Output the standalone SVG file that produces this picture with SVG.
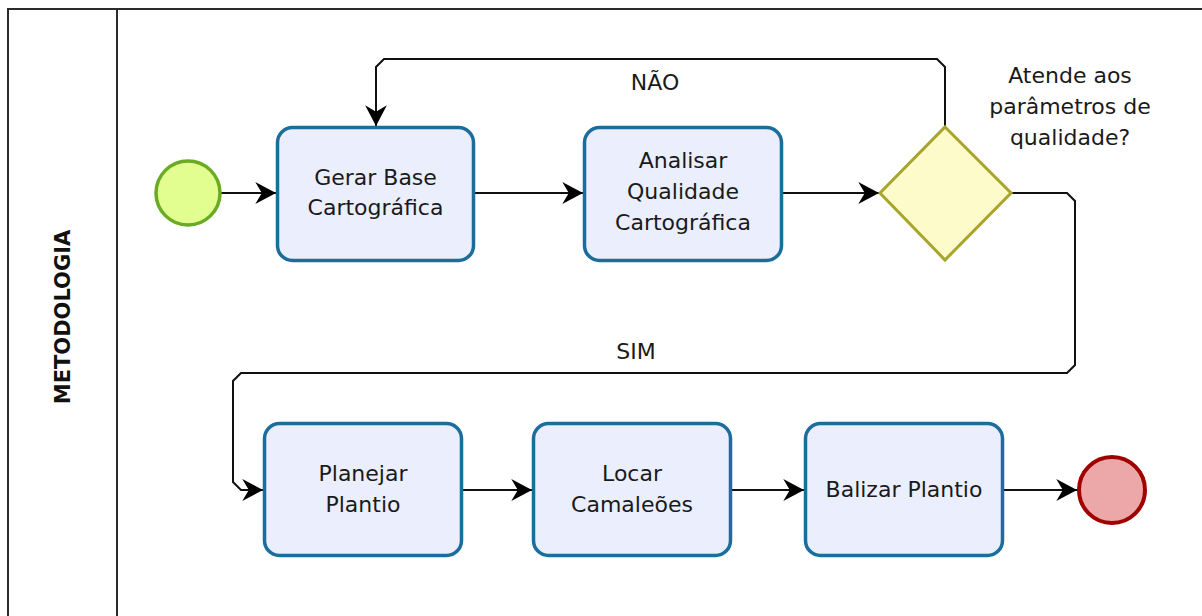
<svg xmlns="http://www.w3.org/2000/svg" width="1202" height="616" viewBox="0 0 1202 616">
  <style>
    .lane { fill: none; stroke: #2b2b2b; stroke-width: 2; }
    .task { fill: #eaeefd; stroke: #1b6e9c; stroke-width: 3.5; }
    .label { font-family: "DejaVu Sans", Verdana, sans-serif; font-size: 22px; fill: #1a1a1a; text-anchor: middle; }
    .flow { fill: none; stroke: #111; stroke-width: 2; }
    .lanetitle { font-family: "DejaVu Sans", Verdana, sans-serif; font-weight: bold; font-size: 21px; fill: #111; text-anchor: middle; }
  </style>
  <defs>
    <marker id="arrow" markerUnits="userSpaceOnUse" markerWidth="24" markerHeight="24" viewBox="-20 -11 22 22" refX="0" refY="0" orient="auto">
      <path d="M0,0 L-19,-10 L-13,0 L-19,10 Z" fill="#000"/>
    </marker>
  </defs>

  <rect width="1202" height="616" fill="#fff"/>

  <!-- pool / lane frame -->
  <g id="lane">
    <path class="lane" d="M8,640 V9 H1210"/>
    <line class="lane" x1="117" y1="9" x2="117" y2="640"/>
    <text class="lanetitle" transform="translate(70,317) rotate(-90)">METODOLOGIA</text>
  </g>

  <!-- sequence flows -->
  <g id="connectors">
    <line class="flow" x1="221" y1="193" x2="276" y2="193" marker-end="url(#arrow)"/>
    <line class="flow" x1="474" y1="193" x2="583" y2="193" marker-end="url(#arrow)"/>
    <line class="flow" x1="782" y1="193" x2="879" y2="193" marker-end="url(#arrow)"/>
    <path class="flow" d="M945,127 V67 L937,59 H384 L376,67 V126" marker-end="url(#arrow)"/>
    <path class="flow" d="M1012,193 H1067 L1075,201 V365 L1067,373 H241 L233,381 V482 L241,490 H263" marker-end="url(#arrow)"/>
    <line class="flow" x1="463" y1="490" x2="532" y2="490" marker-end="url(#arrow)"/>
    <line class="flow" x1="732" y1="490" x2="804" y2="490" marker-end="url(#arrow)"/>
    <line class="flow" x1="1004" y1="490" x2="1077" y2="490" marker-end="url(#arrow)"/>
    <text class="label" x="655" y="90">NÃO</text>
    <text class="label" x="636" y="359">SIM</text>
  </g>

  <g id="start">
    <circle cx="188" cy="193" r="32" fill="#e2fd90" stroke="#6aab22" stroke-width="3.5"/>
  </g>

  <g id="gerar-base">
    <rect class="task" x="277.5" y="127.5" width="196" height="133" rx="15"/>
    <text class="label" x="375.5" y="185">Gerar Base</text>
    <text class="label" x="375.5" y="215">Cartográfica</text>
  </g>

  <g id="analisar-qualidade">
    <rect class="task" x="584.5" y="127.5" width="197" height="133" rx="15"/>
    <text class="label" x="683" y="168">Analisar</text>
    <text class="label" x="683" y="199">Qualidade</text>
    <text class="label" x="683" y="230">Cartográfica</text>
  </g>

  <g id="gateway">
    <polygon points="945,127 1011,193 945,260 880,193" fill="#fdfbc9" stroke="#a7a52b" stroke-width="3"/>
    <text class="label" x="1070" y="83">Atende aos</text>
    <text class="label" x="1070" y="114">parâmetros de</text>
    <text class="label" x="1070" y="145">qualidade?</text>
  </g>

  <g id="planejar-plantio">
    <rect class="task" x="264.5" y="423.5" width="197" height="132" rx="15"/>
    <text class="label" x="363" y="481">Planejar</text>
    <text class="label" x="363" y="512">Plantio</text>
  </g>

  <g id="locar-camaleoes">
    <rect class="task" x="533.5" y="423.5" width="197" height="132" rx="15"/>
    <text class="label" x="632" y="481">Locar</text>
    <text class="label" x="632" y="512">Camaleões</text>
  </g>

  <g id="balizar-plantio">
    <rect class="task" x="805.5" y="423.5" width="197" height="132" rx="15"/>
    <text class="label" x="904" y="497">Balizar Plantio</text>
  </g>

  <g id="end">
    <circle cx="1112" cy="490" r="33" fill="#eca8a8" stroke="#a00000" stroke-width="4"/>
  </g>
</svg>
